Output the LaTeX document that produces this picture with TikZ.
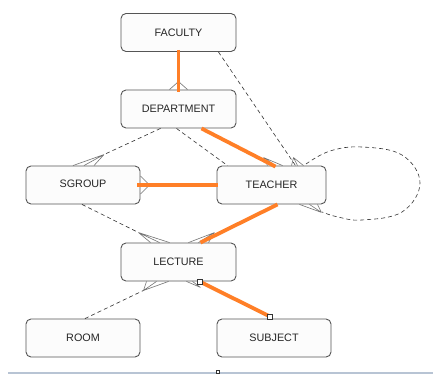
\documentclass[tikz,border=0pt]{standalone}
\usepackage{fontspec}
\setmainfont{Liberation Sans}
\usetikzlibrary{calc}
\definecolor{orng}{HTML}{FF7F27}
\definecolor{boxline}{HTML}{555555}
\definecolor{boxfill}{HTML}{FCFCFC}
\definecolor{barblue}{HTML}{B8C4D4}
\tikzset{
  entity/.style={draw=boxline, fill=boxfill, line width=0.9pt, rounded corners=5pt,
    minimum width=115pt, minimum height=38pt, inner sep=0pt,
    font=\fontsize{10.8pt}{12pt}\selectfont, text=black!85},
  rel/.style={line width=0.6pt, draw=black!80, dash pattern=on 4pt off 3pt},
  foot/.style={line width=0.6pt, draw=black!55},
  strong/.style={line width=3.8pt, draw=orng},
  handle/.style={draw=black!80, fill=white, line width=0.5pt, minimum size=5pt, inner sep=0pt}
}
\begin{document}
\begin{tikzpicture}[x=1pt,y=-1pt]
\useasboundingbox (0,0) rectangle (433,374);
\fill[white] (0,0) rectangle (433,374);
% bottom bar
\fill[barblue] (8,371.5) rectangle (433,374);
% self loop of TEACHER
\draw[rel] plot[smooth, tension=0.65] coordinates {(306,164) (330,151) (362,147) (402,155) (420,183) (402,212) (362,220) (338,217) (322,212)};
% nodes
\node[entity] (faculty) at (178.5,32.5) {FACULTY};
\node[entity] (dept) at (178.5,109) {DEPARTMENT};
\node[entity, minimum width=114pt] (sgroup) at (83,185) {\raisebox{3pt}{SGROUP}};
\node[entity, minimum width=109pt] (teacher) at (271.5,185) {TEACHER};
\node[entity] (lecture) at (178.5,262) {LECTURE};
\node[entity, minimum width=114pt] (room) at (83,338) {ROOM};
\node[entity, minimum width=114pt] (subject) at (274,338) {SUBJECT};
% crow's feet
\coordinate (a1) at ($(dept.north)+(0,-8)$);
\draw[foot] (a1) -- ($(dept.north)+(-9,0)$) (a1) -- (dept.north) (a1) -- ($(dept.north)+(9,0)$);
\coordinate (a2) at ($(sgroup.north)+(21,-11)$);
\draw[foot] (a2) -- ($(sgroup.north)+(-10,0)$) (a2) -- ($(sgroup.north)+(1,0)$) (a2) -- ($(sgroup.north)+(11,0)$);
\coordinate (a3) at ($(sgroup.east)+(9,0)$);
\draw[foot] (a3) -- ($(sgroup.east)+(0,-9)$) (a3) -- (sgroup.east) (a3) -- ($(sgroup.east)+(0,9)$);
\coordinate (a4) at ($(teacher.north)+(-8,-8)$);
\draw[foot] (a4) -- ($(teacher.north)+(-4,0)$) (a4) -- ($(teacher.north)+(4,0)$) (a4) -- ($(teacher.north)+(11,0)$);
\coordinate (a5) at ($(teacher.north)+(22,-8)$);
\draw[foot] (a5) -- ($(teacher.north)+(20,0)$) (a5) -- ($(teacher.north)+(26,0)$) (a5) -- ($(teacher.north)+(32,0)$);
\coordinate (a6) at ($(teacher.south)+(50,8)$);
\draw[foot] (a6) -- ($(teacher.south)+(28,0)$) (a6) -- ($(teacher.south)+(38,0)$) (a6) -- ($(teacher.south)+(46,0)$);
\coordinate (a7) at ($(lecture.north)+(-40,-10)$);
\draw[foot] (a7) -- ($(lecture.north)+(-28,0)$) (a7) -- ($(lecture.north)+(-19,0)$) (a7) -- ($(lecture.north)+(-9,0)$);
\coordinate (a8) at ($(lecture.north)+(36,-10)$);
\draw[foot] (a8) -- ($(lecture.north)+(10,0)$) (a8) -- ($(lecture.north)+(20,0)$) (a8) -- ($(lecture.north)+(30,0)$);
\coordinate (a9) at ($(lecture.south)+(-35,9)$);
\draw[foot] (a9) -- ($(lecture.south)+(-32,0)$) (a9) -- ($(lecture.south)+(-22,0)$) (a9) -- ($(lecture.south)+(-10,0)$);
\coordinate (a10) at ($(lecture.south)+(22,6)$);
\draw[foot] (a10) -- ($(lecture.south)+(8,0)$) (a10) -- ($(lecture.south)+(14,0)$);
% dashed relationships
\draw[rel] ($(faculty.south east)+(-18,0)$) -- ($(teacher.north)+(24,0)$);
\draw[rel] ($(dept.south)+(-18,0)$) -- (a2);
\draw[rel] ($(dept.south)+(-2,0)$) -- ($(teacher.north)+(-44,0)$);
\draw[rel] ($(sgroup.south)+(-1,0)$) -- (a7);
\draw[rel] ($(room.north)+(2,0)$) -- (a9);
% strong relationships
\draw[strong] ($(faculty.south)+(0,-2)$) -- ($(dept.north)+(0,2)$);
\draw[strong] ($(dept.south)+(23,0)$) -- ($(teacher.north)+(4,1)$);
\draw[strong] ($(sgroup.east)+(-3,0)$) -- ($(teacher.west)+(1,0)$);
\draw[strong] ($(teacher.south)+(6,0)$) -- ($(lecture.north)+(22,0)$);
\draw[strong] ($(lecture.south)+(21,0)$) -- ($(subject.north)+(-4,-2)$);
\node[handle] (h1) at ($(lecture.south)+(21,0)$) {};
\node[handle] (h2) at ($(subject.north)+(-4,-2)$) {};
\node[handle, minimum size=3pt] (h3) at (218,372) {};
\end{tikzpicture}
\end{document}
